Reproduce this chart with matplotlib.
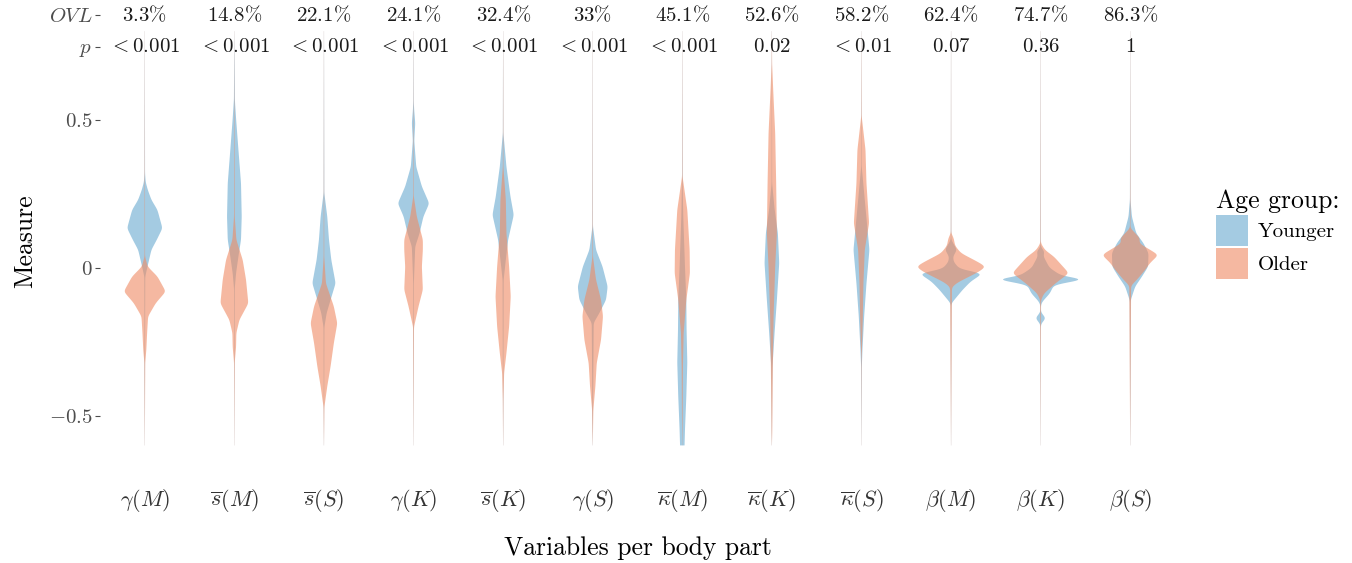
import numpy as np
import matplotlib
matplotlib.use("Agg")
import matplotlib.pyplot as plt
from matplotlib.patches import Patch

plt.rcParams['mathtext.fontset'] = 'cm'
plt.rcParams['font.family'] = ['cmr10', 'DejaVu Serif']
plt.rcParams['axes.unicode_minus'] = False

# categories along the x axis
variables = [r'$\gamma(M)$', r'$\overline{s}(M)$', r'$\overline{s}(S)$', r'$\gamma(K)$',
             r'$\overline{s}(K)$', r'$\gamma(S)$', r'$\overline{\kappa}(M)$', r'$\overline{\kappa}(K)$',
             r'$\overline{\kappa}(S)$', r'$\beta(M)$', r'$\beta(K)$', r'$\beta(S)$']
ovl = ['3.3\\%', '14.8\\%', '22.1\\%', '24.1\\%', '32.4\\%', '33\\%', '45.1\\%',
       '52.6\\%', '58.2\\%', '62.4\\%', '74.7\\%', '86.3\\%']
pvals = ['< 0.001', '< 0.001', '< 0.001', '< 0.001', '< 0.001', '< 0.001', '< 0.001',
         '0.02', '< 0.01', '0.07', '0.36', '1']

# density profiles: (measure, half width in category units)
younger = [
    [(-0.03, 0.005), (0.004, 0.03), (0.061, 0.074), (0.095, 0.134), (0.134, 0.197),
     (0.196, 0.141), (0.23, 0.074), (0.264, 0.033), (0.29, 0.01), (0.32, 0.003)],
    [(-0.07, 0.004), (-0.018, 0.019), (0.038, 0.045), (0.095, 0.074), (0.173, 0.082),
     (0.286, 0.074), (0.4, 0.045), (0.5, 0.02), (0.57, 0.005)],
    [(-0.2, 0.005), (-0.153, 0.03), (-0.108, 0.074), (-0.052, 0.13), (0.027, 0.082),
     (0.095, 0.056), (0.173, 0.037), (0.253, 0.004)],
    [(-0.05, 0.004), (0.01, 0.011), (0.072, 0.019), (0.117, 0.067), (0.173, 0.11),
     (0.218, 0.175), (0.275, 0.093), (0.342, 0.03), (0.43, 0.008), (0.489, 0.019),
     (0.534, 0.007), (0.56, 0.003)],
    [(-0.04, 0.006), (0.027, 0.03), (0.095, 0.056), (0.179, 0.119), (0.241, 0.082),
     (0.342, 0.037), (0.455, 0.003)],
    [(-0.186, 0.011), (-0.153, 0.074), (-0.108, 0.149), (-0.063, 0.167), (0.004, 0.11),
     (0.061, 0.037), (0.14, 0.003)],
    [(-0.6, 0.025), (-0.547, 0.03), (-0.435, 0.045), (-0.32, 0.056), (-0.21, 0.048),
     (-0.108, 0.045), (0.004, 0.03), (0.173, 0.011), (0.3, 0.003)],
    [(-0.4, 0.004), (-0.333, 0.007), (-0.22, 0.03), (-0.108, 0.056), (0.016, 0.082),
     (0.117, 0.067), (0.2, 0.03), (0.286, 0.003)],
    [(-0.333, 0.004), (-0.277, 0.011), (-0.164, 0.03), (-0.052, 0.056), (0.061, 0.089),
     (0.23, 0.037), (0.342, 0.003)],
    [(-0.12, 0.004), (-0.108, 0.037), (-0.074, 0.13), (-0.046, 0.22), (-0.018, 0.36),
     (-0.005, 0.1), (0.02, 0.03), (0.038, 0.022), (0.061, 0.067), (0.08, 0.03), (0.095, 0.003)],
    [(-0.19, 0.003), (-0.17, 0.059), (-0.15, 0.003), (-0.125, 0.003), (-0.114, 0.02),
     (-0.086, 0.104), (-0.057, 0.149), (-0.044, 0.4), (-0.038, 0.56), (-0.03, 0.25),
     (0.0, 0.1), (0.04, 0.03), (0.055, 0.045), (0.07, 0.003)],
    [(-0.11, 0.005), (-0.063, 0.056), (-0.03, 0.13), (0.004, 0.2), (0.05, 0.204),
     (0.083, 0.149), (0.117, 0.067), (0.173, 0.019), (0.23, 0.003)],
]
older = [
    [(-0.32, 0.005), (-0.277, 0.017), (-0.22, 0.026), (-0.164, 0.037), (-0.119, 0.123),
     (-0.08, 0.234), (-0.029, 0.141), (0.004, 0.033), (0.038, 0.003)],
    [(-0.32, 0.004), (-0.266, 0.019), (-0.22, 0.022), (-0.176, 0.056), (-0.12, 0.156),
     (-0.04, 0.13), (0.027, 0.093), (0.095, 0.022), (0.173, 0.004)],
    [(-0.47, 0.005), (-0.4, 0.037), (-0.333, 0.074), (-0.255, 0.11), (-0.187, 0.149),
     (-0.13, 0.11), (-0.052, 0.022), (0.038, 0.003)],
    [(-0.2, 0.005), (-0.13, 0.056), (-0.074, 0.104), (0.004, 0.093), (0.061, 0.104),
     (0.095, 0.104), (0.173, 0.037), (0.241, 0.003)],
    [(-0.446, 0.004), (-0.356, 0.011), (-0.288, 0.037), (-0.198, 0.067), (-0.097, 0.085),
     (0.004, 0.067), (0.117, 0.037), (0.23, 0.03), (0.342, 0.003)],
    [(-0.48, 0.007), (-0.4, 0.03), (-0.322, 0.045), (-0.243, 0.093), (-0.164, 0.115),
     (-0.108, 0.093), (-0.04, 0.037), (0.038, 0.003)],
    [(-0.5, 0.004), (-0.333, 0.007), (-0.22, 0.015), (-0.108, 0.045), (-0.018, 0.085),
     (0.061, 0.082), (0.196, 0.056), (0.308, 0.003)],
    [(-0.56, 0.004), (-0.333, 0.011), (-0.164, 0.019), (0.004, 0.037), (0.117, 0.056),
     (0.286, 0.048), (0.455, 0.037), (0.6, 0.015), (0.69, 0.003)],
    [(-0.3, 0.003), (-0.164, 0.015), (-0.052, 0.022), (0.061, 0.037), (0.151, 0.085),
     (0.286, 0.056), (0.399, 0.045), (0.511, 0.003)],
    [(-0.065, 0.01), (-0.05, 0.07), (-0.03, 0.2), (-0.015, 0.3), (0.004, 0.39),
     (0.02, 0.3), (0.05, 0.11), (0.075, 0.045), (0.1, 0.03), (0.117, 0.003)],
    [(-0.108, 0.005), (-0.086, 0.04), (-0.052, 0.167), (-0.018, 0.316), (0.038, 0.149),
     (0.06, 0.05), (0.083, 0.003)],
    [(-0.06, 0.01), (-0.04, 0.075), (-0.007, 0.167), (0.016, 0.22), (0.044, 0.316),
     (0.083, 0.1), (0.1, 0.11), (0.134, 0.003)],
]

YOUNG_COL = '#67a9cf'
OLD_COL = '#ef8a62'
Y_LOW, Y_HIGH, TAIL = -0.6, 0.8, 0.0008


def make_stats(profile):
    pts = sorted(profile)
    if pts[0][0] > Y_LOW:
        pts = [(Y_LOW, TAIL)] + pts
    if pts[-1][0] < Y_HIGH:
        pts = pts + [(Y_HIGH, TAIL)]
    y = np.array([p[0] for p in pts])
    w = np.array([p[1] for p in pts])
    # round off the corners of the outline a little
    grid = np.arange(y[0], y[-1] + 1e-9, 0.002)
    wg = np.interp(grid, y, w)
    k = np.exp(-0.5 * (np.arange(-9, 10) / 3.0) ** 2)
    k /= k.sum()
    wg = np.convolve(np.pad(wg, 9, mode='edge'), k, mode='valid')
    wg = np.maximum(wg, TAIL)
    return {'coords': grid, 'vals': wg, 'mean': 0, 'median': 0,
            'min': grid.min(), 'max': grid.max()}, 2 * wg.max()


def draw(ax, profiles, color):
    pos = np.arange(1, len(profiles) + 1)
    stats, widths = zip(*[make_stats(p) for p in profiles])
    parts = ax.violin(list(stats), positions=pos, widths=list(widths),
                      showmeans=False, showextrema=False, showmedians=False)
    for body in parts['bodies']:
        body.set_facecolor(color)
        body.set_edgecolor('none')
        body.set_alpha(0.6)


fig = plt.figure(figsize=(13.52, 5.63), dpi=100)
ax = fig.add_axes([100 / 1352, 1 - 475 / 563, 1075 / 1352, 467.5 / 563])

draw(ax, younger, YOUNG_COL)
draw(ax, older, OLD_COL)

ovl_y, p_y = 0.855, 0.747
for i in range(len(variables)):
    ax.text(i + 1, ovl_y, '$' + ovl[i] + '$', ha='center', va='center', fontsize=15, color='#1a1a1a')
    ax.text(i + 1, p_y, '$' + pvals[i] + '$', ha='center', va='center', fontsize=15, color='#1a1a1a')

ax.set_xlim(0.5, 12.5)
ax.set_ylim(-0.7, 0.88)
ax.set_xticks(np.arange(1, 13))
ax.set_xticklabels(variables, fontsize=16, color='#333333')
ax.set_yticks([-0.5, 0, 0.5, p_y, ovl_y])
ax.set_yticklabels(['$-0.5$', '$0$', '$0.5$', '$p$', '$OVL$'], fontsize=15, color='#4d4d4d')
ax.tick_params(axis='x', length=0, pad=9)
ax.tick_params(axis='y', length=3.5, width=0.8, color='#4d4d4d', pad=2)
for s in ax.spines.values():
    s.set_visible(False)

ax.set_xlabel('Variables per body part', fontsize=18.5, labelpad=16)
ax.set_ylabel('Measure', fontsize=18.5, labelpad=8)

handles = [Patch(facecolor=YOUNG_COL, alpha=0.6, edgecolor='none', label='Younger'),
           Patch(facecolor=OLD_COL, alpha=0.6, edgecolor='none', label='Older')]
fig.legend(handles=handles, title='Age group:', loc='center left',
           bbox_to_anchor=(1216 / 1352, 1 - 234 / 563), frameon=False,
           fontsize=15, title_fontsize=18.5, handlelength=1.55, handleheight=1.9,
           labelspacing=0.1, handletextpad=0.45, alignment='left', borderaxespad=0,
           borderpad=0)

fig.savefig('out.png', dpi=100)
